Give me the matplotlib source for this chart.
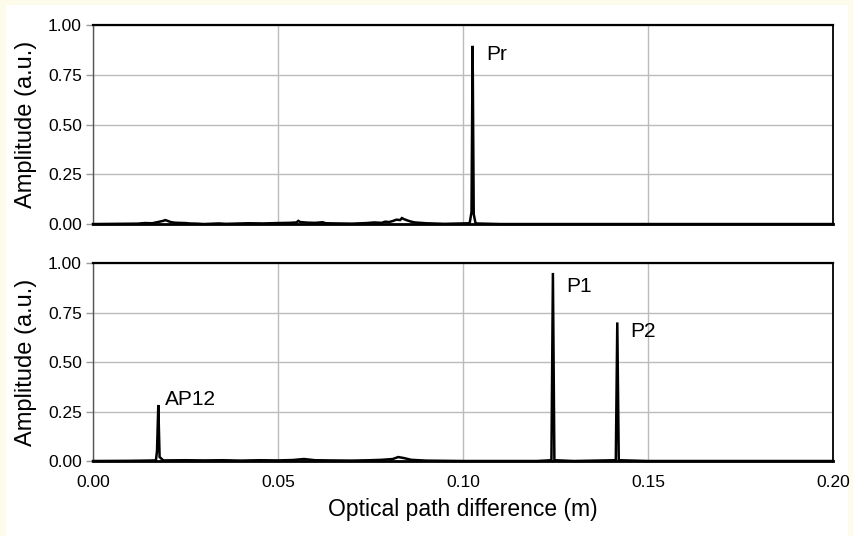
from matplotlib import pyplot as plt
from matplotlib.patches import Rectangle

plt.rcParams["font.family"] = ["Liberation Sans", "DejaVu Sans"]

# optical path difference (m) vs amplitude (a.u.)
top_opd = [0.000, 0.012, 0.014, 0.016, 0.017, 0.018, 0.019, 0.0195, 0.020, 0.021, 0.022,
           0.023, 0.025, 0.026, 0.028, 0.030, 0.034, 0.036, 0.038, 0.042, 0.046, 0.050,
           0.053, 0.055, 0.0555, 0.056, 0.058, 0.060, 0.062, 0.063, 0.066, 0.070, 0.074,
           0.076, 0.078, 0.079, 0.080, 0.081, 0.082, 0.083, 0.0835, 0.084, 0.085, 0.086,
           0.087, 0.090, 0.095, 0.1018, 0.1023, 0.1026, 0.1029, 0.1034, 0.110, 0.200]
top_amp = [0.000, 0.002, 0.005, 0.004, 0.008, 0.012, 0.016, 0.020, 0.017, 0.010, 0.007,
           0.006, 0.005, 0.003, 0.002, 0.000, 0.003, 0.001, 0.002, 0.004, 0.003, 0.005,
           0.006, 0.008, 0.016, 0.010, 0.007, 0.006, 0.009, 0.004, 0.003, 0.002, 0.005,
           0.008, 0.006, 0.012, 0.010, 0.015, 0.022, 0.020, 0.030, 0.025, 0.018, 0.012,
           0.008, 0.004, 0.001, 0.004, 0.060, 0.895, 0.050, 0.003, 0.000, 0.000]

bot_opd = [0.000, 0.010, 0.014, 0.017, 0.0173, 0.01765, 0.0180, 0.019, 0.025, 0.030,
           0.035, 0.040, 0.045, 0.050, 0.054, 0.057, 0.058, 0.060, 0.064, 0.070, 0.075,
           0.078, 0.081, 0.0825, 0.084, 0.086, 0.090, 0.100, 0.120, 0.1239, 0.1243,
           0.1247, 0.130, 0.1413, 0.1417, 0.1421, 0.150, 0.200]
bot_amp = [0.000, 0.001, 0.002, 0.003, 0.050, 0.283, 0.020, 0.003, 0.004, 0.003,
           0.004, 0.002, 0.004, 0.003, 0.005, 0.010, 0.008, 0.004, 0.003, 0.002, 0.004,
           0.006, 0.010, 0.020, 0.015, 0.006, 0.002, 0.000, 0.000, 0.004, 0.950,
           0.004, 0.000, 0.004, 0.700, 0.004, 0.000, 0.000]

top_labels = [("Pr", 0.1063, 0.85)]
bot_labels = [("AP12", 0.0195, 0.31), ("P1", 0.1278, 0.88), ("P2", 0.1453, 0.655)]

yticks = [0.0, 0.25, 0.5, 0.75, 1.0]
xticks = [0.0, 0.05, 0.10, 0.15, 0.20]

fig = plt.figure(figsize=(8.54, 5.36), dpi=100)
fig.patch.set_facecolor("#fdfbea")
fig.patches.append(Rectangle((6 / 854, 0), 842 / 854, 1 - 5 / 536, transform=fig.transFigure,
                             facecolor="white", edgecolor="none", zorder=-10))

ax_top = fig.add_axes([0.1089, 0.582, 0.8665, 0.3714])
ax_bot = fig.add_axes([0.1089, 0.1399, 0.8665, 0.3694])

panels = [(ax_top, top_opd, top_amp, top_labels), (ax_bot, bot_opd, bot_amp, bot_labels)]
for ax, opd, amp, labels in panels:
    ax.plot(opd, amp, color="black", lw=1.8, clip_on=False, zorder=3, solid_joinstyle="miter")
    ax.set_xlim(0, 0.2)
    ax.set_ylim(0, 1)
    ax.set_xticks(xticks)
    ax.set_yticks(yticks)
    ax.set_yticklabels([f"{t:.2f}" for t in yticks], fontsize=12.5)
    ax.grid(True, color="#bcbcbc", lw=1)
    ax.set_axisbelow(True)
    ax.tick_params(axis="y", length=5, color="#9a9a9a", width=1, pad=3)
    ax.tick_params(axis="x", length=0, pad=10)
    ax.set_ylabel("Amplitude (a.u.)", fontsize=17, labelpad=8)
    ax.spines["top"].set_linewidth(1.6)
    ax.spines["right"].set_linewidth(1.3)
    ax.spines["left"].set_linewidth(1.0)
    ax.spines["left"].set_color("#555555")
    ax.spines["bottom"].set_linewidth(2.0)
    for text, x, y in labels:
        ax.text(x, y, text, fontsize=15, va="center", ha="left")

ax_top.set_xticklabels([])
ax_bot.set_xticklabels([f"{t:.2f}" for t in xticks], fontsize=12.5)
ax_bot.set_xlabel("Optical path difference (m)", fontsize=16.5, labelpad=6)

fig.savefig("out.png", dpi=100)
